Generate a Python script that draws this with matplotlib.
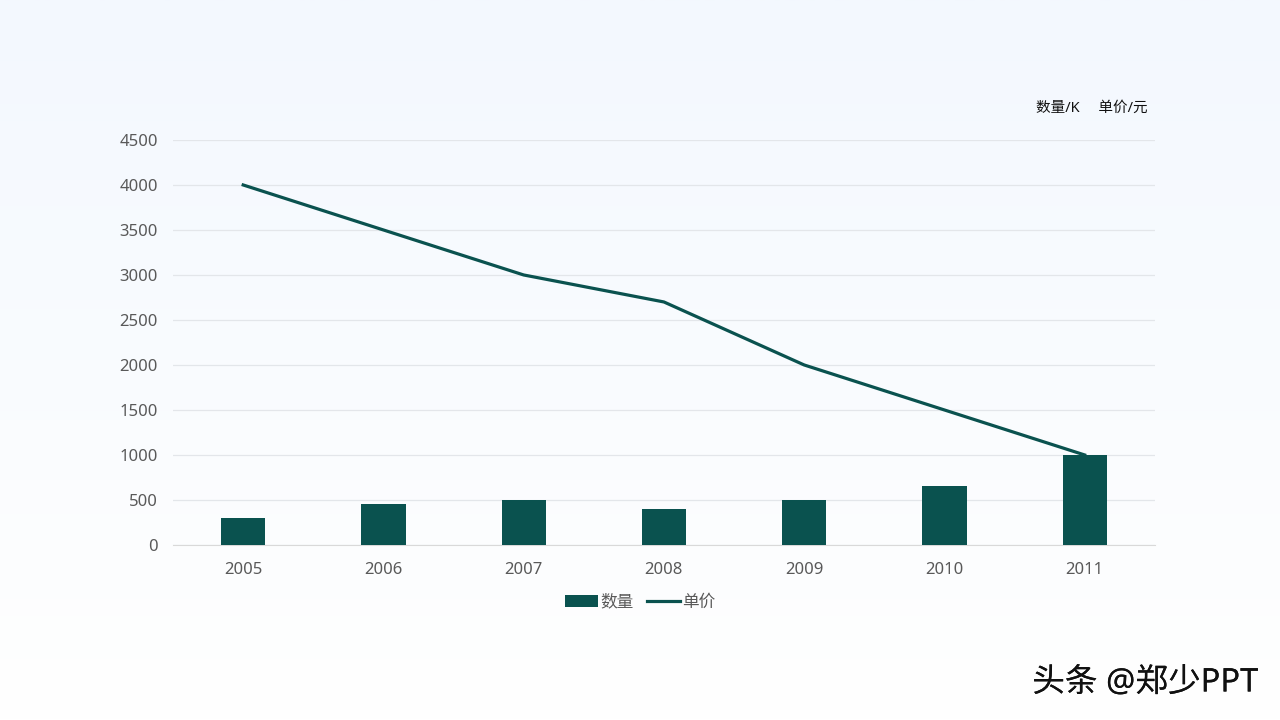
import matplotlib
matplotlib.use("Agg")
import matplotlib.pyplot as plt
import matplotlib.patheffects as pe
import numpy as np
from matplotlib.colors import LinearSegmentedColormap

plt.rcParams['font.family'] = ['Noto Sans', 'Noto Sans CJK SC', 'DejaVu Sans']

years = ['2005', '2006', '2007', '2008', '2009', '2010', '2011']
quantity = [300, 450, 500, 400, 500, 650, 1000]
price = [4000, 3500, 3000, 2700, 2000, 1500, 1000]
yticks = [0, 500, 1000, 1500, 2000, 2500, 3000, 3500, 4000, 4500]

color = '#0a524f'
fig = plt.figure(figsize=(12.8, 7.2), dpi=100)

# background gradient
bg = fig.add_axes([0, 0, 1, 1], zorder=-10)
grad = np.linspace(0, 1, 256).reshape(-1, 1)
cmap = LinearSegmentedColormap.from_list('bg', ['#f3f8fe', '#ffffff'])
bg.imshow(grad, aspect='auto', cmap=cmap, extent=[0, 1, 0, 1])
bg.axis('off')

ax = fig.add_axes([0.1352, 0.2431, 0.767, 0.5625])
ax.patch.set_alpha(0)
x = np.arange(len(years))
ax.plot(x, price, color=color, lw=2.3, zorder=2, label='单价')
ax.bar(x, quantity, width=0.315, color=color, zorder=3, label='数量')

ax.set_xlim(-0.5, len(years) - 0.5)
ax.set_ylim(0, 4500)
ax.set_yticks(yticks)
ax.set_xticks(x)
ax.set_xticklabels(years)
ax.tick_params(axis='both', length=0, labelsize=12, colors='#595959')
ax.tick_params(axis='y', pad=11)
ax.tick_params(axis='x', pad=12.5)
ax.grid(axis='y', color='#e3e6ea', lw=0.9, zorder=0)
for s in ['top', 'right', 'left']:
    ax.spines[s].set_visible(False)
ax.spines['bottom'].set_color('#d9d9d9')

handles, labels = ax.get_legend_handles_labels()
order = [1, 0]
fig.legend([handles[i] for i in order], [labels[i] for i in order],
           loc='center', bbox_to_anchor=(0.5, 0.163), ncol=2, frameon=False,
           fontsize=12, labelcolor='#595959', handlelength=2.0,
           handletextpad=0.1, columnspacing=0.8)

fig.text(1148 / 1280, 1 - 108 / 720, '数量/K     单价/元', ha='right', va='center',
         fontsize=10.5, color='#111111')

fig.text(1258 / 1280, 1 - 683 / 720, '头条 @郑少PPT', ha='right', va='center',
         fontsize=23.5, color='#111111',
         path_effects=[pe.withSimplePatchShadow(offset=(1.5, -1.5), shadow_rgbFace='#ffffff', alpha=1.0),
                       pe.Normal()])

fig.savefig('out.png', dpi=100)
